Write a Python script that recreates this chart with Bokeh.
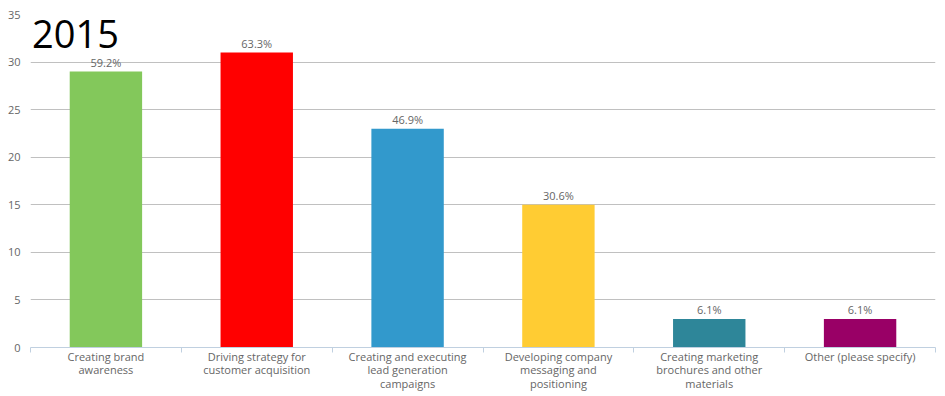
from bokeh.plotting import figure
from bokeh.models import FixedTicker, Label, Range1d, ColumnDataSource
from bokeh.core.properties import value
from bokeh.embed import file_html
from bokeh.resources import INLINE

categories = [
    "Creating brand\nawareness",
    "Driving strategy for\ncustomer acquisition",
    "Creating and executing\nlead generation\ncampaigns",
    "Developing company\nmessaging and\npositioning",
    "Creating marketing\nbrochures and other\nmaterials",
    "Other (please specify)",
]
counts = [29, 31, 23, 15, 3, 3]
pct_labels = ["59.2%", "63.3%", "46.9%", "30.6%", "6.1%", "6.1%"]
colors = ["#83c85b", "#ff0000", "#3299cc", "#ffcc33", "#2e8699", "#990066"]
y_ticks = [0, 5, 10, 15, 20, 25, 30, 35]
title_text = "2015"

n = len(categories)
centers = [i + 0.5 for i in range(n)]
bounds = [i for i in range(n + 1)]

src = ColumnDataSource(dict(x=centers, top=counts, color=colors, pct=pct_labels))

p = figure(width=945, height=396, x_range=Range1d(0, n), y_range=Range1d(0, 35),
           output_backend="svg", toolbar_location=None,
           min_border_left=30, min_border_right=10, min_border_top=14, min_border_bottom=49)
p.outline_line_color = None
p.background_fill_color = "white"
p.border_fill_color = "white"

p.vbar(x="x", top="top", width=0.48, fill_color="color", line_color=None, source=src)
p.text(x="x", y="top", text="pct", source=src, text_align="center", text_baseline="bottom",
       y_offset=-2, text_font_size="11px", text_color="#666666", text_font=value("Open Sans"))

# y axis
p.yaxis.ticker = FixedTicker(ticks=y_ticks)
p.ygrid.ticker = FixedTicker(ticks=y_ticks)
p.ygrid.grid_line_color = "#c0c0c0"
p.xgrid.visible = False
p.yaxis.axis_line_color = None
p.yaxis.major_tick_line_color = None
p.yaxis.minor_tick_line_color = None
p.yaxis.major_tick_out = 0
p.yaxis.major_tick_in = 0
p.yaxis.major_label_standoff = 10
p.yaxis.major_label_text_font = "Open Sans"
p.yaxis.major_label_text_font_size = "11px"
p.yaxis.major_label_text_color = "#666666"

# x axis
p.xaxis.ticker = FixedTicker(ticks=centers, minor_ticks=bounds)
p.xaxis.major_label_overrides = {c: lab for c, lab in zip(centers, categories)}
p.xaxis.axis_line_color = "#c0d0e0"
p.xaxis.major_tick_line_color = None
p.xaxis.major_tick_out = 0
p.xaxis.major_tick_in = 0
p.xaxis.minor_tick_line_color = "#c0d0e0"
p.xaxis.minor_tick_out = 5
p.xaxis.minor_tick_in = 0
p.xaxis.major_label_standoff = -4
p.xaxis.major_label_text_font = "Open Sans"
p.xaxis.major_label_text_font_size = "11px"
p.xaxis.major_label_text_line_height = 0.92
p.xaxis.major_label_text_color = "#666666"

p.add_layout(Label(x=0.01, y=33.0, text=title_text, text_font="Open Sans",
                   text_font_size="38px", text_color="black", text_baseline="alphabetic"))

open("out.html", "w").write(file_html(p, INLINE))
